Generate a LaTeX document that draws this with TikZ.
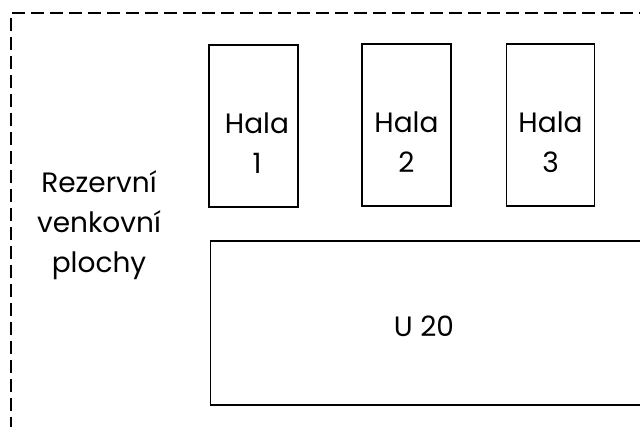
\documentclass[tikz,border=0pt]{standalone}
\usepackage{fontspec}
\setmainfont{Poppins}
\begin{document}
\begin{tikzpicture}[x=1pt,y=-1pt,
  box/.style={draw, line width=1.3pt, inner sep=0pt},
  lbl/.style={font=\fontsize{28}{40}\selectfont, align=center, inner sep=0pt, anchor=base},
  border/.style={line width=1.1pt, dash pattern=on 13pt off 6pt}]
\useasboundingbox (0,0) rectangle (640,426);
\fill[white] (0,0) rectangle (640,426);
% dashed site boundary
\coordinate (bl) at (11,430);
\coordinate (tl) at (11,13);
\coordinate (tr) at (645,13);
\draw[border] (bl) -- (tl) -- (tr);
% halls
\node[box, minimum width=89pt, minimum height=162pt] (h1) at (253.5,126) {};
\node[box, minimum width=89pt, minimum height=162pt] (h2) at (406.5,125) {};
\node[box, minimum width=88pt, minimum height=162pt] (h3) at (550.5,125) {};
\node[lbl] (t1) at (257,173) {Hala\\1};
\node[lbl] (t2) at (406.5,172) {Hala\\2};
\node[lbl] (t3) at (550.5,172) {Hala\\3};
% U 20
\node[box, minimum width=440pt, minimum height=164pt, anchor=west] (u20) at (210,323) {};
\node[lbl] (tu) at (424,336) {U 20};
% reserve areas
\node[lbl] (rez) at (99,272) {Rezervní\\venkovní\\plochy};
\end{tikzpicture}
\end{document}
